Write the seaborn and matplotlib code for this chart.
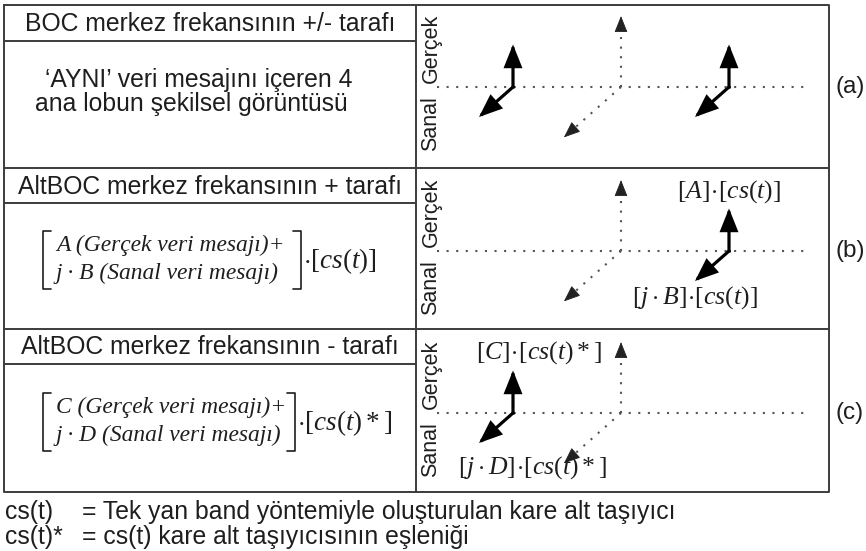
import numpy as np
import pandas as pd
import matplotlib
matplotlib.use("Agg")
import matplotlib.pyplot as plt
import seaborn as sns

# ---- content -------------------------------------------------------------
panel_tags = ["(a)", "(b)", "(c)"]
headers = [
    "BOC merkez frekansının +/- tarafı",
    "AltBOC merkez frekansının + tarafı",
    "AltBOC merkez frekansının - tarafı",
]
body_a = ["\u2018AYNI\u2019 veri mesajını içeren 4", "ana lobun şekilsel görüntüsü"]
formula_b = ["A (Gerçek veri mesajı)+", "j · B (Sanal veri mesajı)"]
formula_c = ["C (Gerçek veri mesajı)+", "j · D (Sanal veri mesajı)"]
carrier_b = r"$\cdot[cs(t)]$"
carrier_c = r"$\cdot[cs(t)*]$"

# main lobes per panel: frequency offset, real and imaginary amplitude
lobe_freq = [[-1, 1], [1], [-1]]
lobe_real = [[1, 1], [1], [1]]
lobe_imag = [[1, 1], [1], [1]]

# labels attached to the lobe vectors (panel, text, (f, re, im) anchor)
vector_labels = [
    (1, r"$[A]\!\cdot\![cs(t)]$", (1.0, 1.39, 0.0)),
    (1, r"$[j\cdot B]\!\cdot\![cs(t)]$", (1.0, -0.40, 1.0)),
    (2, r"$[C]\!\cdot\![cs(t)*]$", (-0.76, 1.43, 0.0)),
    (2, r"$[j\cdot D]\!\cdot\![cs(t)*]$", (-0.82, -1.29, 0.0)),
]
axis_names = ["Gerçek", "Sanal"]
legend_keys = ["cs(t)", "cs(t)*"]
legend_vals = [
    "= Tek yan band yöntemiyle oluşturulan kare alt taşıyıcı",
    "= cs(t) kare alt taşıyıcısının eşleniği",
]

# ---- style ---------------------------------------------------------------
sns.set_theme(style="white")
plt.rcParams["font.family"] = ["Liberation Sans", "DejaVu Sans"]
plt.rcParams["mathtext.fontset"] = "custom"
plt.rcParams["mathtext.rm"] = "Liberation Serif"
plt.rcParams["mathtext.it"] = "Liberation Serif:italic"

INK = "#1e1e1e"
FRAME = "#3c3c3c"
DOT = "#555555"

fig = plt.figure(figsize=(8.66, 5.51), dpi=100)
ax = fig.add_axes([0, 0, 1, 1])
ax.set_xlim(0, 866)
ax.set_ylim(551, 0)
ax.axis("off")

# ---- table frame ---------------------------------------------------------
L, M, R = 4, 416, 829
row_top = [5, 168, 329]
row_bot = [168, 329, 492]
head_line = [41, 203, 364]
frame_kw = dict(color=FRAME, lw=1.4, solid_capstyle="projecting")
ax.plot([L, R, R, L, L], [5, 5, 492, 492, 5], **frame_kw)
ax.plot([M, M], [5, 492], **frame_kw)
for y in row_bot[:-1]:
    ax.plot([L, R], [y, y], **frame_kw)
for y in head_line:
    ax.plot([L, M], [y, y], **frame_kw)

SANS = 17.8
for i, h in enumerate(headers):
    ax.text((L + M) / 2, (row_top[i] + head_line[i]) / 2 + 1, h, ha="center",
            va="center", fontsize=SANS, color=INK)

ax.text(45, 80, body_a[0], ha="left", va="center", fontsize=SANS, color=INK)
ax.text(35, 104, body_a[1], ha="left", va="center", fontsize=SANS, color=INK)


def bracket_block(lines, carrier, y1, y2, xl, xr):
    serif = dict(family="Liberation Serif", style="italic", fontsize=16.9,
                 color=INK)
    ax.text(xl + 13, y1, lines[0], ha="left", va="center", **serif)
    ax.text(xl + 13, y2, lines[1], ha="left", va="center", **serif)
    top, bot = y1 - 14, y2 + 16
    bk = dict(color=INK, lw=1.2)
    ax.plot([xl + 8, xl, xl, xl + 8], [top, top, bot, bot], **bk)
    ax.plot([xr - 8, xr, xr, xr - 8], [top, top, bot, bot], **bk)
    ax.text(xr + 2, (top + bot) / 2 + 1, carrier, ha="left", va="center",
            fontsize=19.5, color=INK)


bracket_block(formula_b, carrier_b, 245, 273, 43, 301)
bracket_block(formula_c, carrier_c, 407, 435, 43, 295)

# ---- phasor panels -------------------------------------------------------
CX = 621
axis_y = [87, 251, 413]
F_PX, RE_PX = 108.0, 42.5
IM_DX, IM_DY = -34.0, 30.0


def to_px(i, f, re, im):
    return CX + f * F_PX + im * IM_DX, axis_y[i] - re * RE_PX + im * IM_DY


for i, tag in enumerate(panel_tags):
    # dotted reference axes
    ends = {
        "freq": [to_px(i, -1.7, 0, 0), to_px(i, 1.7, 0, 0)],
        "real": [to_px(i, 0, 0, 0), to_px(i, 0, 1.58, 0)],
        "imag": [to_px(i, 0, 0, 0), to_px(i, 0, 0, 1.6)],
    }
    rows = []
    for name, pts in ends.items():
        for (x, y) in pts:
            rows.append({"axis": name, "x": x, "y": y})
    df = pd.DataFrame(rows)
    for name, g in df.groupby("axis"):
        sns.lineplot(data=g, x="x", y="y", sort=False, estimator=None, ax=ax,
                     color=DOT, lw=1.5, linestyle=(0, (1, 3.6)), legend=False)
    for tip, d in [((0, 1.67, 0), (0, 1, 0)), ((0, 0, 1.68), (0, 0, 1))]:
        tx, ty = to_px(i, *tip)
        bx, by = to_px(i, tip[0] - 0.2 * d[0], tip[1] - 0.2 * d[1],
                       tip[2] - 0.2 * d[2])
        ax.annotate("", xy=(tx, ty), xytext=(bx, by),
                    arrowprops=dict(arrowstyle="-|>,head_length=0.8,head_width=0.32",
                                    mutation_scale=13, color="#222222", lw=0.6,
                                    shrinkA=0, shrinkB=0))

    # solid lobe vectors: real part up, imaginary part toward the viewer
    for f, re, im in zip(lobe_freq[i], lobe_real[i], lobe_imag[i]):
        ox, oy = to_px(i, f, 0, 0)
        for tip in [to_px(i, f, re, 0), to_px(i, f, 0, im)]:
            ax.annotate("", xy=tip, xytext=(ox, oy),
                        arrowprops=dict(arrowstyle="-|>,head_length=0.95,head_width=0.38",
                                        mutation_scale=13.5, color="black", lw=2.3,
                                        shrinkA=0, shrinkB=0,
                                        joinstyle="miter", capstyle="projecting"))

    ax.text(431, axis_y[i] - 39, axis_names[0], rotation=90, ha="center",
            va="center", fontsize=15.5, color=INK)
    ax.text(431, axis_y[i] + 37, axis_names[1], rotation=90, ha="center",
            va="center", fontsize=15.5, color=INK)
    ax.text(850, axis_y[i], tag, ha="center", va="center", fontsize=17.5,
            color=INK)

for i, txt, anchor in vector_labels:
    x, y = to_px(i, *anchor)
    ax.text(x, y, txt, ha="center", va="center", fontsize=18.5, color=INK)

# ---- legend lines --------------------------------------------------------
for k, (key, val) in enumerate(zip(legend_keys, legend_vals)):
    y = 512 + 25 * k
    ax.text(5, y, key, ha="left", va="center", fontsize=SANS, color=INK)
    ax.text(82, y, val, ha="left", va="center", fontsize=SANS, color=INK)

fig.savefig("out.png", dpi=100, facecolor="white")
